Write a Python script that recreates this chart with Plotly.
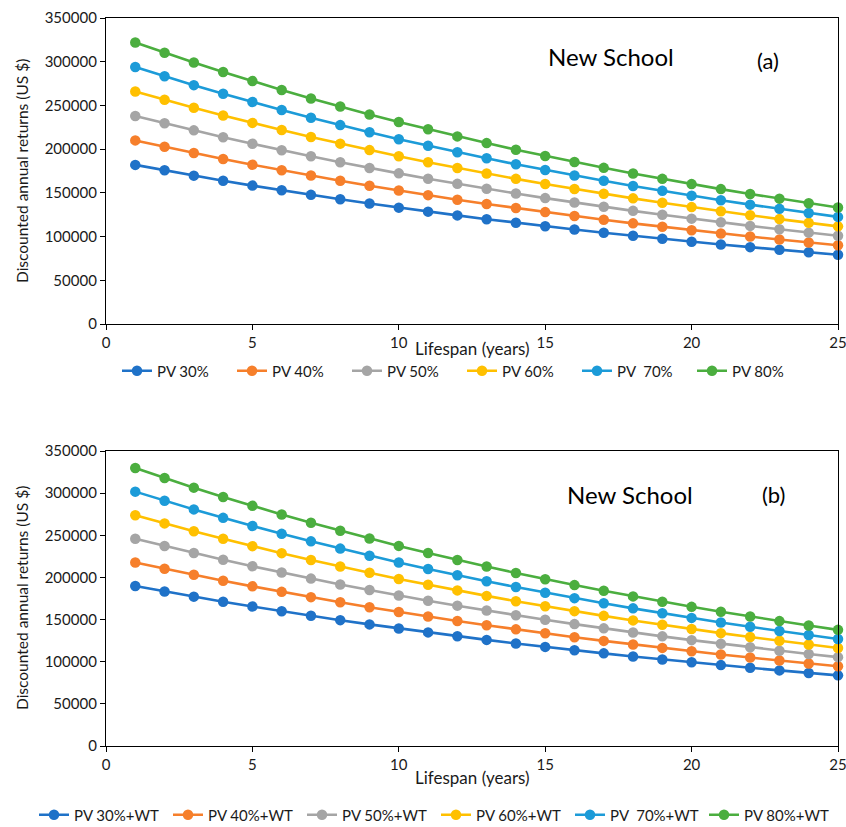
import plotly.graph_objects as go

W, H = 846, 827

years = list(range(1, 26))

# Panel (a): PV only
pv30 = [182000, 175800, 169700, 163900, 158300, 152900, 147700, 142600, 137800, 133100,
        128500, 124200, 119900, 115800, 111900, 108100, 104400, 100900, 97500, 94100,
        91000, 87900, 84900, 82000, 79200]
pv40 = [210000, 202700, 195600, 188800, 182200, 175900, 169800, 163900, 158200, 152700,
        147400, 142200, 137300, 132600, 128000, 123500, 119300, 115100, 111200, 107300,
        103600, 100000, 96600, 93300, 90000]
pv50 = [238000, 229600, 221500, 213600, 206100, 198800, 191800, 185100, 178500, 172300,
        166200, 160300, 154700, 149300, 144000, 139000, 134100, 129400, 124900, 120500,
        116300, 112200, 108300, 104500, 100900]
pv60 = [266000, 256500, 247300, 238500, 230000, 221800, 213900, 206300, 198900, 191800,
        185000, 178400, 172100, 166000, 160100, 154400, 148900, 143700, 138600, 133700,
        128900, 124400, 120000, 115700, 111700]
pv70 = [294000, 283400, 273200, 263400, 253900, 244800, 236000, 227500, 219300, 211400,
        203900, 196500, 189500, 182700, 176200, 169900, 163800, 157900, 152300, 146800,
        141600, 136500, 131700, 127000, 122500]
pv80 = [322000, 310300, 299100, 288200, 277800, 267700, 258000, 248700, 239700, 231000,
        222700, 214600, 206900, 199400, 192200, 185300, 178600, 172200, 166000, 160000,
        154300, 148700, 143400, 138200, 133300]

# Panel (b): PV + WT
pvwt30 = [189800, 183400, 177200, 171200, 165500, 159900, 154500, 149300, 144300, 139500,
          134800, 130300, 125900, 121700, 117600, 113700, 109900, 106200, 102700, 99300,
          96000, 92800, 89700, 86700, 83800]
pvwt40 = [217800, 210300, 203100, 196100, 189400, 182900, 176600, 170500, 164700, 159000,
          153600, 148400, 143300, 138400, 133700, 129100, 124700, 120500, 116400, 112400,
          108600, 104900, 101400, 97900, 94600]
pvwt50 = [245800, 237200, 228900, 220900, 213200, 205800, 198600, 191700, 185100, 178600,
          172400, 166500, 160700, 155100, 149700, 144600, 139600, 134700, 130100, 125600,
          121300, 117100, 113100, 109200, 105400]
pvwt60 = [273800, 264100, 254800, 245800, 237100, 228800, 220700, 212900, 205500, 198200,
          191300, 184600, 178100, 171800, 165800, 160000, 154400, 149000, 143800, 138800,
          133900, 129300, 124800, 120400, 116200]
pvwt70 = [301800, 291000, 280700, 270700, 261000, 251700, 242800, 234200, 225800, 217800,
          210100, 202600, 195500, 188600, 181900, 175400, 169300, 163300, 157500, 152000,
          146600, 141400, 136500, 131700, 127000]
pvwt80 = [329800, 317900, 306500, 295500, 284900, 274700, 264800, 255400, 246200, 237400,
          228900, 220700, 212900, 205300, 197900, 190900, 184100, 177500, 171200, 165100,
          159300, 153600, 148200, 142900, 137800]

names_a = ["PV 30%", "PV 40%", "PV 50%", "PV 60%", "PV  70%", "PV 80%"]
names_b = ["PV 30%+WT", "PV 40%+WT", "PV 50%+WT", "PV 60%+WT", "PV  70%+WT", "PV 80%+WT"]
series_a = [pv30, pv40, pv50, pv60, pv70, pv80]
series_b = [pvwt30, pvwt40, pvwt50, pvwt60, pvwt70, pvwt80]
colors = ["#1F72C8", "#F67F2B", "#A5A5A5", "#FFC000", "#1C9BD8", "#4BAE3F"]

x_title = "Lifespan (years)"
y_title = "Discounted annual returns (US $)"

FONT = "Lato"
TXT = "#1a1a1a"

fig = go.Figure()
for name, ys, c in zip(names_a, series_a, colors):
    fig.add_trace(go.Scatter(x=years, y=ys, name=name, mode="lines+markers",
                             line=dict(color=c, width=2.6),
                             marker=dict(color=c, size=10.5),
                             xaxis="x", yaxis="y", legend="legend", cliponaxis=False))
for name, ys, c in zip(names_b, series_b, colors):
    fig.add_trace(go.Scatter(x=years, y=ys, name=name, mode="lines+markers",
                             line=dict(color=c, width=2.6),
                             marker=dict(color=c, size=10.5),
                             xaxis="x2", yaxis="y2", legend="legend2", cliponaxis=False))

def py(p):
    return 1 - p / H

def px(p):
    return p / W

xdom = [px(106), px(838)]
axis_common = dict(showline=True, linecolor="black", linewidth=1.3, mirror=True,
                   ticks="outside", ticklen=5, tickcolor="black", showgrid=False,
                   zeroline=False, automargin=False, ticklabeloverflow="allow",
                   tickfont=dict(family=FONT, size=15, color=TXT))

def note(text, x, y, size, angle=0, color=TXT):
    return dict(text=text, x=px(x), y=py(y), xref="paper", yref="paper",
                xanchor="center", yanchor="middle", textangle=angle,
                showarrow=False, font=dict(family=FONT, size=size, color=color))

fig.update_layout(
    width=W, height=H,
    margin=dict(l=0, r=0, t=0, b=0, autoexpand=False),
    paper_bgcolor="white", plot_bgcolor="white",
    font=dict(family=FONT, size=15, color=TXT),
    xaxis=dict(domain=xdom, anchor="y", range=[0, 25], dtick=5, **axis_common),
    yaxis=dict(domain=[py(324), py(18)], anchor="x", range=[0, 350000], dtick=50000,
               tickformat="d", **axis_common),
    xaxis2=dict(domain=xdom, anchor="y2", range=[0, 25], dtick=5, **axis_common),
    yaxis2=dict(domain=[py(746), py(451)], anchor="x2", range=[0, 350000], dtick=50000,
                tickformat="d", **axis_common),
    legend=dict(orientation="h", x=px(462), y=py(371), xanchor="center", yanchor="middle",
                entrywidth=70, entrywidthmode="pixels",
                font=dict(family=FONT, size=15, color=TXT), bgcolor="rgba(0,0,0,0)"),
    legend2=dict(orientation="h", x=px(436), y=py(815), xanchor="center", yanchor="middle",
                 entrywidth=89, entrywidthmode="pixels",
                 font=dict(family=FONT, size=15, color=TXT), bgcolor="rgba(0,0,0,0)"),
    annotations=[
        note(x_title, 472, 348, 17),
        note(x_title, 472, 777, 17),
        note(y_title, 22, 171, 15.5, angle=-90),
        note(y_title, 22, 598, 15.5, angle=-90),
        note("New School", 611, 57, 24, color="black"),
        note("(a)", 768, 60, 22, color="black"),
        note("New School", 630, 494, 24, color="black"),
        note("(b)", 773, 494, 22, color="black"),
    ],
)

fig.write_html("out.html",
               config={"displayModeBar": False},
               post_script="document.body.style.margin='0';document.body.style.overflow='hidden';")
